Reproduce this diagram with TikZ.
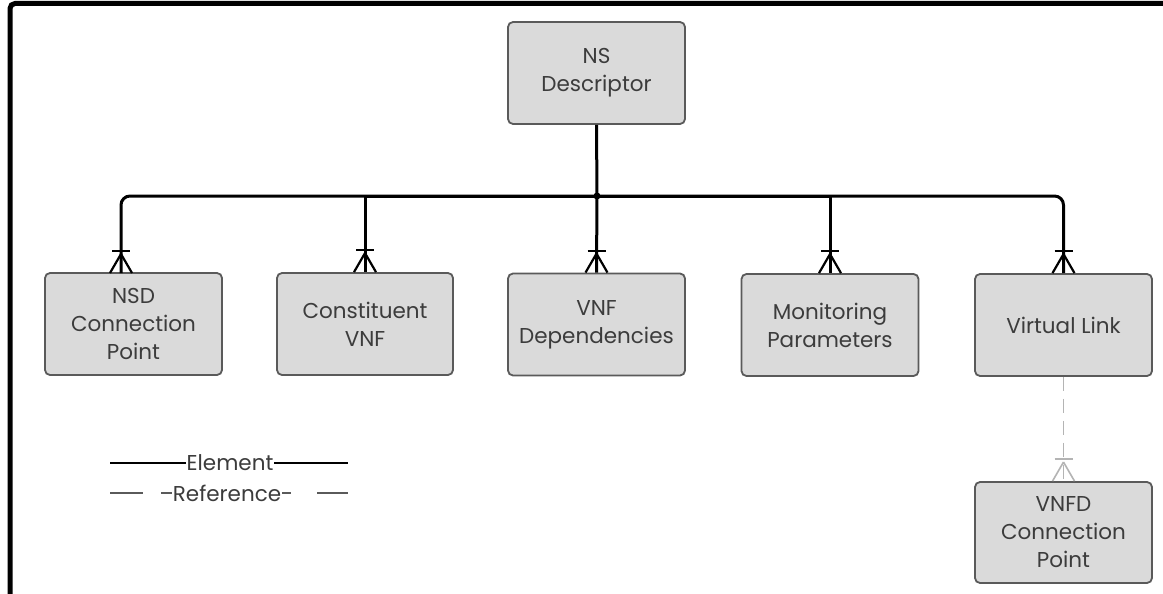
\documentclass[tikz,border=0pt]{standalone}
\usepackage{fontspec}
\setmainfont{Poppins}
\begin{document}
\begin{tikzpicture}[x=1pt,y=-1pt,
  entity/.style={draw=boxline, fill=boxfill, line width=1.8pt, rounded corners=5pt,
    minimum width=177pt, minimum height=102pt, align=center,
    text=boxtext, font=\fontsize{21.5}{28}\selectfont},
  elem/.style={draw=black, line width=3pt},
  refline/.style={draw=refgray, line width=1.6pt, dash pattern=on 14pt off 8pt},
  crowfoot/.pic={\draw (-9,-22) -- (9,-22); \draw (0,-19) -- (-11,0) (0,-19) -- (11,0);},
  legendtext/.style={fill=white, inner sep=0.5pt, text=boxtext, font=\fontsize{21.5}{24}\selectfont}]
\definecolor{boxfill}{HTML}{DADADA}
\definecolor{boxline}{HTML}{5A5A5A}
\definecolor{boxtext}{HTML}{3C3C3C}
\definecolor{refgray}{HTML}{B4B4B4}
\useasboundingbox (0,0) rectangle (1163,594);
\fill[white] (0,0) rectangle (1163,594);

% outer frame
\draw[line width=5pt, rounded corners=5pt] (10,600) -- (10,3.5) -- (1170,3.5);

% entities
\node[entity] (ns) at (596.5,73) {NS\\Descriptor};
\node[entity] (nsdcp) at (133.5,324) {NSD\\Connection\\Point};
\node[entity, minimum width=176pt] (cvnf) at (365,324) {Constituent\\VNF};
\node[entity] (vdep) at (596.5,324.5) {VNF\\Dependencies};
\node[entity] (mon) at (830,325) {Monitoring\\Parameters};
\node[entity] (vl) at (1063.5,325) {Virtual Link};
\node[entity, minimum height=101pt] (vnfdcp) at (1063.5,532.5) {VNFD\\Connection\\Point};

% element tree
\coordinate (j) at (597,196);
\coordinate (nsdtop) at (121,273);
\draw[elem] (ns.south) -- (j);
\draw[elem, rounded corners=9pt] (nsdtop) |- (j) -| (vl.north);
\draw[elem] (j) -| (cvnf.north);
\draw[elem] (j) -- (vdep.north);
\draw[elem] (j) -| (mon.north);
\fill (j) circle (3.5pt);

% multiplicity feet on the element links
\begin{scope}[line width=2.2pt, black]
  \pic at (nsdtop) {crowfoot};
  \pic at (cvnf.north) {crowfoot};
  \pic at (vdep.north) {crowfoot};
  \pic at (mon.north) {crowfoot};
  \pic at (vl.north) {crowfoot};
\end{scope}

% reference link
\draw[refline] (vl.south) -- (vnfdcp.north);
\begin{scope}[line width=1.6pt, refgray]
  \pic at (vnfdcp.north) {crowfoot};
\end{scope}

% legend
\coordinate (le1) at (110,463);
\coordinate (le2) at (348,463);
\draw[line width=2.8pt] (le1) -- (le2);
\node[legendtext] (lelem) at (230,463) {Element};
\coordinate (lr1) at (110,493);
\coordinate (lr2) at (348,493);
\draw[draw=boxline, line width=2pt, dash pattern=on 33pt off 18pt on 130pt off 26pt on 31pt] (lr1) -- (lr2);
\node[legendtext] (lref) at (227,493) {Reference};
\end{tikzpicture}
\end{document}
